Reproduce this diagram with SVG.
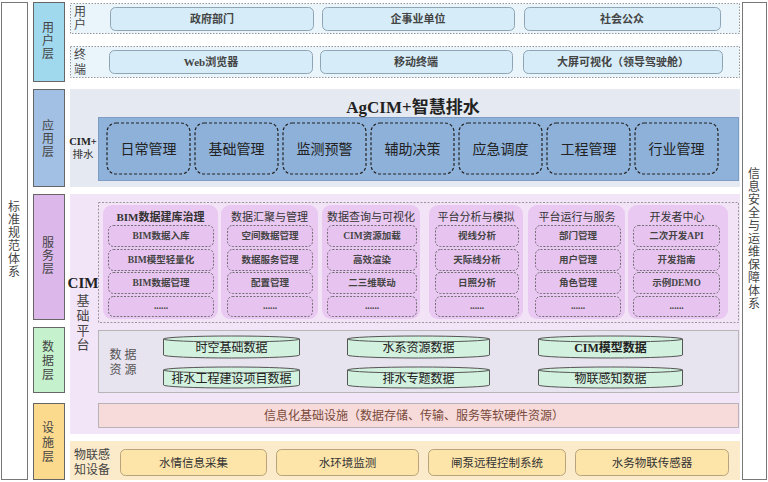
<svg xmlns="http://www.w3.org/2000/svg" width="768" height="482" viewBox="0 0 768 482">
<style>
text{font-family:"Liberation Serif","Noto Sans CJK SC",serif;fill:#333;text-anchor:middle;dominant-baseline:central}
.lab{font-size:12px;fill:#444}
.side{fill:#fff;stroke:#777;stroke-width:1}
.lyr{stroke:#666;stroke-width:1}
.uband{fill:#eaf4fb;stroke:#999;stroke-dasharray:1.5 1.5}
.ubox{fill:#d6edf9;stroke:#8fa5b5;stroke-width:1}
.ut{font-size:11px;font-weight:bold;fill:#444}
.abox{fill:#8eb1da;stroke:#222;stroke-dasharray:3 2;stroke-width:1.2}
.at{font-size:14px;fill:#222}
.col{fill:#e9c9f1}
.sbox{fill:#e7c4f0;stroke:#555;stroke-dasharray:2 1.5;stroke-width:0.8}
.sh{font-size:11px;fill:#333}
.st{font-size:9.5px;font-weight:bold;fill:#444}
.cyl{fill:#d3f1df;stroke:#555;stroke-width:1}
.ct{font-size:12px;fill:#222}
.fbox{fill:#fde4a9;stroke:#b9a37a;stroke-width:1}
.ft{font-size:11.5px;fill:#333}
</style>

<!-- side panels -->
<g id="std">
<rect class="side" x="1.5" y="2.5" width="26" height="477"/>
<text class="lab" x="14" y="207">标</text><text class="lab" x="14" y="220">准</text><text class="lab" x="14" y="233">规</text><text class="lab" x="14" y="246">范</text><text class="lab" x="14" y="259">体</text><text class="lab" x="14" y="272">系</text>
</g>
<g id="security">
<rect class="side" x="742.5" y="2.5" width="24" height="477"/>
<text class="lab" x="754" y="174">信</text><text class="lab" x="754" y="187">息</text><text class="lab" x="754" y="200">安</text><text class="lab" x="754" y="213">全</text><text class="lab" x="754" y="226">与</text><text class="lab" x="754" y="239">运</text><text class="lab" x="754" y="252">维</text><text class="lab" x="754" y="265">保</text><text class="lab" x="754" y="278">障</text><text class="lab" x="754" y="291">体</text><text class="lab" x="754" y="304">系</text>
</g>

<!-- layer labels -->
<g id="layer-user">
<rect class="lyr" x="33.5" y="2.5" width="31" height="79" fill="#a0d8ee"/>
<text class="lab" x="48" y="28">用</text><text class="lab" x="48" y="41">户</text><text class="lab" x="48" y="54">层</text>
</g>
<g id="layer-app">
<rect class="lyr" x="33.5" y="89.5" width="31" height="97" fill="#a2c0e3"/>
<text class="lab" x="48" y="126">应</text><text class="lab" x="48" y="139">用</text><text class="lab" x="48" y="152">层</text>
</g>
<g id="layer-service">
<rect class="lyr" x="33.5" y="194.5" width="31" height="125" fill="#dcb7ea"/>
<text class="lab" x="48" y="243">服</text><text class="lab" x="48" y="256">务</text><text class="lab" x="48" y="269">层</text>
</g>
<g id="layer-data">
<rect class="lyr" x="33.5" y="327.5" width="31" height="65" fill="#c5f1cd"/>
<text class="lab" x="48" y="347">数</text><text class="lab" x="48" y="361">据</text><text class="lab" x="48" y="375">层</text>
</g>
<g id="layer-infra">
<rect class="lyr" x="33.5" y="403.5" width="31" height="76" fill="#fbd98d"/>
<text class="lab" x="48" y="428">设</text><text class="lab" x="48" y="443">施</text><text class="lab" x="48" y="457">层</text>
</g>

<!-- user layer -->
<g id="users">
<rect class="uband" x="70.5" y="3.5" width="669" height="30"/>
<text class="lab" x="80" y="12">用</text><text class="lab" x="80" y="25">户</text>
<rect class="ubox" x="110.5" y="7.5" width="203" height="23" rx="5"/><text class="ut" x="212" y="19">政府部门</text>
<rect class="ubox" x="322.5" y="7.5" width="192" height="23" rx="5"/><text class="ut" x="418" y="19">企事业单位</text>
<rect class="ubox" x="524.5" y="7.5" width="196" height="23" rx="5"/><text class="ut" x="622" y="19">社会公众</text>
</g>
<g id="terminals">
<rect class="uband" x="70.5" y="46.5" width="669" height="31"/>
<text class="lab" x="80" y="55">终</text><text class="lab" x="80" y="70">端</text>
<rect class="ubox" x="109.5" y="50.5" width="203" height="23" rx="5"/><text class="ut" x="211" y="62">Web浏览器</text>
<rect class="ubox" x="320.5" y="50.5" width="192" height="23" rx="5"/><text class="ut" x="416" y="62">移动终端</text>
<rect class="ubox" x="523.5" y="50.5" width="199" height="23" rx="5"/><text class="ut" x="623" y="62">大屏可视化（领导驾驶舱）</text>
</g>

<!-- application layer -->
<g id="app">
<rect x="70" y="89" width="670" height="98" fill="#e5eaf2"/>
<text x="413" y="107" style="font-size:17px;font-weight:bold;fill:#222">AgCIM+智慧排水</text>
<text x="83" y="141" style="font-size:10.5px;font-weight:bold;fill:#222">CIM+</text>
<text x="83" y="154" style="font-size:10.5px;fill:#333">排水</text>
<rect x="98.5" y="117.5" width="640" height="63" fill="#8fb2da" stroke="#7e9cc4"/>
<rect class="abox" x="107" y="123" width="83" height="51" rx="9"/><text class="at" x="148.5" y="149">日常管理</text>
<rect class="abox" x="195" y="123" width="83" height="51" rx="9"/><text class="at" x="236.5" y="149">基础管理</text>
<rect class="abox" x="283" y="123" width="83" height="51" rx="9"/><text class="at" x="324.5" y="149">监测预警</text>
<rect class="abox" x="371" y="123" width="83" height="51" rx="9"/><text class="at" x="412.5" y="149">辅助决策</text>
<rect class="abox" x="459" y="123" width="83" height="51" rx="9"/><text class="at" x="500.5" y="149">应急调度</text>
<rect class="abox" x="547" y="123" width="83" height="51" rx="9"/><text class="at" x="588.5" y="149">工程管理</text>
<rect class="abox" x="635" y="123" width="83" height="51" rx="9"/><text class="at" x="676.5" y="149">行业管理</text>
</g>

<!-- CIM platform -->
<g id="platform">
<rect x="70" y="194" width="670" height="240" fill="#f3e5f8"/>
<text x="83" y="283" style="font-size:15px;font-weight:bold;fill:#222">CIM</text>
<text class="lab" x="83" y="300" style="font-size:13px">基</text>
<text class="lab" x="83" y="315" style="font-size:13px">础</text>
<text class="lab" x="83" y="330" style="font-size:13px">平</text>
<text class="lab" x="83" y="344" style="font-size:13px">台</text>
</g>

<g id="service">
<rect x="98.5" y="202.5" width="640" height="120" fill="#f3e3f7" stroke="#999" stroke-dasharray="2 1.5"/>
</g>
<g id="svc-bim">
<rect class="col" x="103" y="205" width="115" height="114" rx="9"/>
<text class="sh" x="160.5" y="217" style="font-weight:bold">BIM数据建库治理</text>
<rect class="sbox" x="108.5" y="225.5" width="105" height="21" rx="5"/><text class="st" x="161" y="236">BIM数据入库</text>
<rect class="sbox" x="108.5" y="249.5" width="105" height="21" rx="5"/><text class="st" x="161" y="260">BIM模型轻量化</text>
<rect class="sbox" x="108.5" y="272.5" width="105" height="21" rx="5"/><text class="st" x="161" y="283">BIM数据管理</text>
<rect class="sbox" x="108.5" y="296.5" width="105" height="20" rx="5"/><text class="st" x="161" y="306">......</text>
</g>
<g id="svc-agg">
<rect class="col" x="221" y="205" width="97" height="114" rx="9"/>
<text class="sh" x="269.5" y="217">数据汇聚与管理</text>
<rect class="sbox" x="227.5" y="225.5" width="85" height="21" rx="5"/><text class="st" x="270" y="236">空间数据管理</text>
<rect class="sbox" x="227.5" y="249.5" width="85" height="21" rx="5"/><text class="st" x="270" y="260">数据服务管理</text>
<rect class="sbox" x="227.5" y="272.5" width="85" height="21" rx="5"/><text class="st" x="270" y="283">配置管理</text>
<rect class="sbox" x="227.5" y="296.5" width="85" height="20" rx="5"/><text class="st" x="270" y="306">......</text>
</g>
<g id="svc-query">
<rect class="col" x="322" y="205" width="98" height="114" rx="9"/>
<text class="sh" x="371" y="217">数据查询与可视化</text>
<rect class="sbox" x="327.5" y="225.5" width="89" height="21" rx="5"/><text class="st" x="372" y="236">CIM资源加载</text>
<rect class="sbox" x="327.5" y="249.5" width="89" height="21" rx="5"/><text class="st" x="372" y="260">高效渲染</text>
<rect class="sbox" x="327.5" y="272.5" width="89" height="21" rx="5"/><text class="st" x="372" y="283">二三维联动</text>
<rect class="sbox" x="327.5" y="296.5" width="89" height="20" rx="5"/><text class="st" x="372" y="306">......</text>
</g>
<g id="svc-analysis">
<rect class="col" x="429" y="205" width="94" height="114" rx="9"/>
<text class="sh" x="476" y="217">平台分析与模拟</text>
<rect class="sbox" x="435.5" y="225.5" width="83" height="21" rx="5"/><text class="st" x="477" y="236">视线分析</text>
<rect class="sbox" x="435.5" y="249.5" width="83" height="21" rx="5"/><text class="st" x="477" y="260">天际线分析</text>
<rect class="sbox" x="435.5" y="272.5" width="83" height="21" rx="5"/><text class="st" x="477" y="283">日照分析</text>
<rect class="sbox" x="435.5" y="296.5" width="83" height="20" rx="5"/><text class="st" x="477" y="306">......</text>
</g>
<g id="svc-ops">
<rect class="col" x="528" y="205" width="97" height="114" rx="9"/>
<text class="sh" x="577" y="217">平台运行与服务</text>
<rect class="sbox" x="535.5" y="225.5" width="85" height="21" rx="5"/><text class="st" x="578" y="236">部门管理</text>
<rect class="sbox" x="535.5" y="249.5" width="85" height="21" rx="5"/><text class="st" x="578" y="260">用户管理</text>
<rect class="sbox" x="535.5" y="272.5" width="85" height="21" rx="5"/><text class="st" x="578" y="283">角色管理</text>
<rect class="sbox" x="535.5" y="296.5" width="85" height="20" rx="5"/><text class="st" x="578" y="306">......</text>
</g>
<g id="svc-dev">
<rect class="col" x="628" y="205" width="100" height="114" rx="9"/>
<text class="sh" x="677" y="217">开发者中心</text>
<rect class="sbox" x="633.5" y="225.5" width="86" height="21" rx="5"/><text class="st" x="676.5" y="236">二次开发API</text>
<rect class="sbox" x="633.5" y="249.5" width="86" height="21" rx="5"/><text class="st" x="676.5" y="260">开发指南</text>
<rect class="sbox" x="633.5" y="272.5" width="86" height="21" rx="5"/><text class="st" x="676.5" y="283">示例DEMO</text>
<rect class="sbox" x="633.5" y="296.5" width="86" height="20" rx="5"/><text class="st" x="676.5" y="306">......</text>
</g>

<!-- data resources -->
<g id="data">
<rect x="98.5" y="330.5" width="640" height="62" fill="#e7e3ef" stroke="#aaa" stroke-width="0.8"/>
<text class="lab" x="123" y="355" style="fill:#555">数 据</text>
<text class="lab" x="123" y="370" style="fill:#555">资 源</text>
<path class="cyl" d="M163.5 339 A68 3 0 0 1 299.5 339 V355 A68 3 0 0 1 163.5 355 Z"/><path d="M163.5 339 A68 3 0 0 0 299.5 339" fill="none" stroke="#555"/><text class="ct" x="231.5" y="348">时空基础数据</text>
<path class="cyl" d="M163.5 370 A68 3 0 0 1 299.5 370 V385 A68 3 0 0 1 163.5 385 Z"/><path d="M163.5 370 A68 3 0 0 0 299.5 370" fill="none" stroke="#555"/><text class="ct" x="231.5" y="379">排水工程建设项目数据</text>
<path class="cyl" d="M347.5 339 A71 3 0 0 1 489.5 339 V355 A71 3 0 0 1 347.5 355 Z"/><path d="M347.5 339 A71 3 0 0 0 489.5 339" fill="none" stroke="#555"/><text class="ct" x="418.5" y="348">水系资源数据</text>
<path class="cyl" d="M347.5 370 A71 3 0 0 1 489.5 370 V385 A71 3 0 0 1 347.5 385 Z"/><path d="M347.5 370 A71 3 0 0 0 489.5 370" fill="none" stroke="#555"/><text class="ct" x="418.5" y="379">排水专题数据</text>
<path class="cyl" d="M538.5 339 A72 3 0 0 1 682.5 339 V355 A72 3 0 0 1 538.5 355 Z"/><path d="M538.5 339 A72 3 0 0 0 682.5 339" fill="none" stroke="#555"/><text class="ct" x="610.5" y="348" style="font-weight:bold">CIM模型数据</text>
<path class="cyl" d="M538.5 370 A72 3 0 0 1 682.5 370 V385 A72 3 0 0 1 538.5 385 Z"/><path d="M538.5 370 A72 3 0 0 0 682.5 370" fill="none" stroke="#555"/><text class="ct" x="610.5" y="379">物联感知数据</text>
</g>

<g id="infrastructure">
<rect x="98.5" y="403.5" width="640" height="24" fill="#f7dada" stroke="#aaa" stroke-width="0.8"/>
<text x="414" y="415.5" style="font-size:12px;fill:#7a4a3a">信息化基础设施（数据存储、传输、服务等软硬件资源）</text>
</g>

<!-- facility layer -->
<g id="facility">
<rect x="70" y="441" width="670" height="39" fill="#fcebca"/>
<text class="lab" x="92" y="455">物联感</text><text class="lab" x="92" y="470">知设备</text>
<rect class="fbox" x="120.5" y="449.5" width="146" height="26" rx="5"/><text class="ft" x="193.5" y="462.5">水情信息采集</text>
<rect class="fbox" x="276.5" y="449.5" width="142" height="26" rx="5"/><text class="ft" x="347.5" y="462.5">水环境监测</text>
<rect class="fbox" x="428.5" y="449.5" width="137" height="26" rx="5"/><text class="ft" x="497" y="462.5">闸泵远程控制系统</text>
<rect class="fbox" x="575.5" y="449.5" width="153" height="26" rx="5"/><text class="ft" x="652" y="462.5">水务物联传感器</text>
</g>
</svg>
